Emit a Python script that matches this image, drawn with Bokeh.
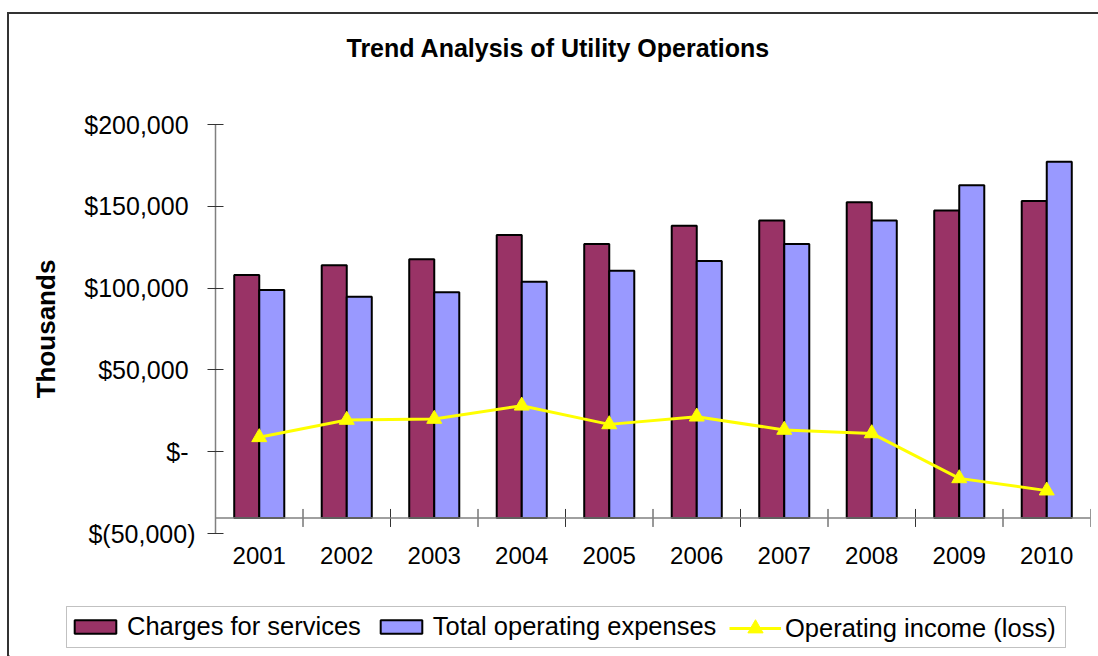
from bokeh.plotting import figure
from bokeh.layouts import column
from bokeh.models import (Range1d, FixedTicker, Span, Legend, LegendItem,
                          ColumnDataSource, Title, BoxAnnotation)
from bokeh.embed import file_html
from bokeh.resources import INLINE

# ---- data ----
years = ["2001", "2002", "2003", "2004", "2005", "2006", "2007", "2008", "2009", "2010"]
charges = [108000, 114000, 117700, 132400, 126900, 138100, 141300, 152500, 147500, 153300]
expenses = [98800, 94700, 97400, 103900, 110600, 116500, 126900, 141300, 162900, 177200]
income = [8800, 19400, 20000, 28100, 16700, 21400, 13300, 11200, -16300, -23800]

y_ticks = [-50000, 0, 50000, 100000, 150000, 200000]
y_tick_labels = ["$(50,000)", "$-\u00a0", "$50,000\u00a0", "$100,000\u00a0",
                 "$150,000\u00a0", "$200,000\u00a0"]

series_names = ["Charges for services", "Total operating expenses", "Operating income (loss)"]

# ---- style / layout constants ----
FONT = "Liberation Sans"
C_CH, C_EX, C_LN = "#993366", "#9999FF", "#FFFF00"
x_axis_crosses = -40500
bar_w = 0.286
n = len(years)
centers = [i + 0.5 for i in range(n)]
boundaries = list(range(n + 1))

src = ColumnDataSource(dict(
    xc=[c - bar_w / 2 for c in centers],
    xe=[c + bar_w / 2 for c in centers],
    x=centers,
    charges=charges,
    expenses=expenses,
    income=income,
    base=[x_axis_crosses] * n,
))

W = 1089
p = figure(width=W, height=576,
           x_range=Range1d(0, n), y_range=Range1d(y_ticks[0], y_ticks[-1]),
           output_backend="svg", toolbar_location=None,
           min_border_left=206, min_border_right=8,
           min_border_top=110, min_border_bottom=57)
p.background_fill_color = "white"
p.border_fill_color = "white"
p.outline_line_color = None
p.xgrid.visible = False
p.ygrid.visible = False

# title (plus a blank spacer between it and the plot area)
p.title.text = "Trend Analysis of Utility Operations"
p.title.text_font = FONT
p.title.text_font_size = "25px"
p.title.text_font_style = "bold"
p.title.text_color = "black"
p.title.align = "left"
p.title.offset = 131
p.title.standoff = 10
p.add_layout(Title(text="\u00a0", text_font=FONT, text_font_size="25px",
                   standoff=28), "above")

# bars
r_ch = p.vbar(x="xc", width=bar_w, top="charges", bottom="base", source=src,
              fill_color=C_CH, line_color="black", line_width=2)
r_ex = p.vbar(x="xe", width=bar_w, top="expenses", bottom="base", source=src,
              fill_color=C_EX, line_color="black", line_width=2)

# horizontal category axis line crossing inside the plot area
p.add_layout(Span(location=x_axis_crosses, dimension="width",
                  line_color="#808080", line_width=1.5))
tick_half = 5500
p.segment(x0=boundaries, x1=boundaries,
          y0=[x_axis_crosses - tick_half] * (n + 1),
          y1=[x_axis_crosses + tick_half] * (n + 1),
          line_color="#333333", line_width=1)

# line
r_ln = p.line(x="x", y="income", source=src, line_color=C_LN, line_width=3)
r_mk = p.scatter(x="x", y="income", source=src, marker="triangle", size=15,
                 fill_color=C_LN, line_color=C_LN, line_width=1)

# y axis
ya = p.yaxis[0]
ya.ticker = FixedTicker(ticks=y_ticks)
ya.major_label_overrides = {t: l for t, l in zip(y_ticks, y_tick_labels)}
ya.major_label_text_font = FONT
ya.major_label_text_font_size = "25px"
ya.major_label_text_color = "black"
ya.major_tick_in = 8
ya.major_tick_out = 8
ya.major_tick_line_color = "#333333"
ya.minor_tick_line_color = None
ya.axis_line_color = "#808080"
ya.axis_line_width = 1.5
ya.major_label_standoff = 12
ya.axis_label = "Thousands"
ya.axis_label_text_font = FONT
ya.axis_label_text_font_size = "26px"
ya.axis_label_text_font_style = "bold"
ya.axis_label_text_color = "black"
ya.axis_label_standoff = 20

# x axis (labels only, at category centres)
xa = p.xaxis[0]
xa.ticker = FixedTicker(ticks=centers)
xa.major_label_overrides = {c: y for c, y in zip(centers, years)}
xa.major_label_text_font = FONT
xa.major_label_text_font_size = "24px"
xa.major_label_text_color = "black"
xa.major_tick_in = 0
xa.major_tick_out = 0
xa.minor_tick_line_color = None
xa.axis_line_color = None
xa.major_label_standoff = 13

# ---- legend strip below the chart (pixel-unit ranges) ----
LH = 66
pl = figure(width=W, height=LH, x_range=Range1d(0, W), y_range=Range1d(0, LH),
            x_axis_type=None, y_axis_type=None, output_backend="svg",
            toolbar_location=None, min_border=0)
pl.outline_line_color = None
pl.background_fill_color = "white"
pl.border_fill_color = "white"
pl.xgrid.visible = False
pl.ygrid.visible = False
try:
    pl.frame_align = False
    dx = 0
except Exception:
    dx = -206

# legend key glyphs (one point each, placed outside the visible strip)
off = [-10]
l_ch = pl.vbar(x=off, top=off, width=1, fill_color=C_CH, line_color="black", line_width=2)
l_ex = pl.vbar(x=off, top=off, width=1, fill_color=C_EX, line_color="black", line_width=2)
l_ln = pl.line(x=off, y=off, line_color=C_LN, line_width=3)
l_mk = pl.scatter(x=off, y=off, marker="triangle", size=15,
                  fill_color=C_LN, line_color=C_LN, line_width=1)


def style_legend(lg, glyph_h, pad, standoff, spacing):
    lg.label_text_font = FONT
    lg.label_text_font_size = "25.5px"
    lg.label_text_color = "black"
    lg.glyph_width = 52
    lg.glyph_height = glyph_h
    lg.label_standoff = standoff
    lg.spacing = spacing
    lg.padding = pad
    lg.margin = 0
    lg.border_line_color = None
    lg.background_fill_alpha = 0


leg_a = Legend(items=[
    LegendItem(label=series_names[0], renderers=[l_ch]),
    LegendItem(label=series_names[1], renderers=[l_ex]),
], orientation="horizontal", location=(60 + dx, 15))
style_legend(leg_a, 17, 6, 6, 14)

leg_b = Legend(items=[
    LegendItem(label=series_names[2], renderers=[l_ln, l_mk]),
], orientation="horizontal", location=(720 + dx, 9))
style_legend(leg_b, 38, 2, 4, 16)

# legend frame
pl.add_layout(BoxAnnotation(left=57, right=1056, bottom=9, top=50,
                            fill_color="white", fill_alpha=1,
                            line_color="#333333", line_width=1, level="underlay"))
pl.add_layout(leg_a, "center")
pl.add_layout(leg_b, "center")

layout = column(p, pl, spacing=0)
layout.styles = {"border-left": "2px solid #333333", "border-top": "2px solid #333333",
                 "margin-left": "7px", "margin-top": "12px"}

open("out.html", "w").write(file_html(layout, INLINE))
